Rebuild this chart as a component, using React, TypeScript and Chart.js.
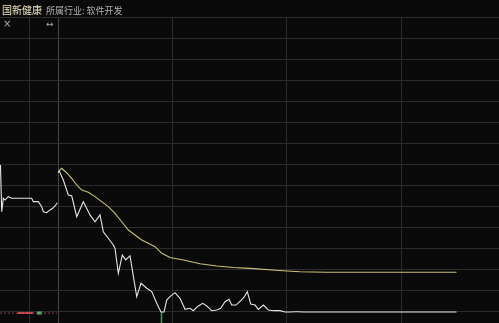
import React, { useEffect, useRef } from "react";
import { Chart, registerables } from "chart.js";

Chart.register(...registerables);

// x in minutes from the open (auction panel uses negative minutes), y in % change vs previous close
const X_MIN = -30.44;
const X_MAX = 231.4;
const X_GRID = [-15.22, 0, 60, 120, 180];
const Y_MIN = -10.746;
const Y_MAX = 10;
const Y_GRID = Array.from({ length: 15 }, (_, k) => 10 - (k * 10) / 7);

const priceMin = [0, 0.7, 2.78, 5.4, 7.19, 9.81, 13.28, 16.79, 19.42, 22.04, 23.77, 26.4, 29.02, 29.91, 31.64, 33.74, 35.53, 37.78, 41.3, 43.56, 46.55, 49.17, 51.8, 54.05, 55.63, 57.04, 58.77, 61.4, 64.02, 66.65, 69.27, 71.0, 73.63, 75.93, 78.03, 80.66, 83.28, 85.38, 87.64, 89.74, 91.15, 93.41, 95.88, 97.61, 99.34, 101.12, 103.38, 105.11, 107.74, 110.36, 112.98, 116.5, 119.12, 121.75, 124.37, 126.1, 128.7, 209.1];
const pricePct = [-0.55, -0.45, -1.05, -2.07, -2.12, -3.54, -2.52, -3.42, -3.88, -3.42, -4.56, -5.0, -5.46, -5.68, -7.38, -6.14, -6.47, -6.2, -8.96, -8.05, -8.39, -8.62, -9.41, -10.0, -10.0, -9.19, -8.96, -8.69, -9.07, -9.82, -9.75, -9.91, -9.59, -9.41, -9.59, -9.91, -9.86, -9.75, -9.3, -9.14, -9.53, -9.53, -9.23, -9.0, -8.62, -9.46, -9.53, -9.82, -9.53, -9.86, -9.91, -9.91, -10.0, -10.0, -9.98, -9.98, -10.0, -10.0];

const avgMin = [0.16, 1.94, 4.57, 7.19, 9.81, 12.44, 15.9, 19.42, 22.93, 26.4, 29.91, 33.43, 36.89, 40.41, 43.92, 47.39, 50.9, 54.42, 58.77, 65.75, 74.52, 83.28, 91.99, 100.75, 118.23, 126.99, 141.0, 209.1];
const avgPct = [-0.49, -0.26, -0.56, -0.94, -1.39, -1.73, -1.88, -2.18, -2.52, -2.86, -3.31, -3.88, -4.44, -4.78, -5.12, -5.34, -5.57, -6.02, -6.31, -6.47, -6.73, -6.88, -6.98, -7.04, -7.2, -7.27, -7.31, -7.31];

const auctionMin = [-30.2, -29.54, -28.7, -27.81, -26.08, -24.3, -13.8, -12.96, -10.34, -8.55, -7.71, -5.93, -4.2, -2.78, -1.57, -0.37];
const auctionPct = [-0.03, -3.2, -2.29, -2.41, -2.18, -2.29, -2.29, -2.52, -2.52, -2.86, -3.2, -3.27, -3.08, -2.97, -2.81, -2.59];

const auctionVolDotMin = [-30.4, -0.5];
const auctionVolRedMin = [-20.99, -13.12];
const auctionVolGreenMin = [-11.02, -8.4];
const auctionVolPct = -10.07;

const limitBarMin = 54.3;
const limitBarPct = [-10.02, -10.75];

const zip = (xs: number[], ys: number[]) => xs.map((x, i) => ({ x, y: ys[i] }));

export default function App() {
  const ref = useRef<HTMLCanvasElement | null>(null);

  useEffect(() => {
    if (!ref.current) return;
    const line = (data: any[], color: string, width = 1, extra: any = {}) => ({
      type: "line" as const,
      data,
      borderColor: color,
      borderWidth: width,
      pointRadius: 0,
      tension: 0,
      fill: false,
      ...extra,
    });
    const chart = new Chart(ref.current, {
      type: "line",
      data: {
        datasets: [
          line(zip(priceMin, pricePct), "#e6e6e6", 1.1),
          line(zip(avgMin, avgPct), "#cbc275", 1.1),
          line(zip(auctionMin, auctionPct), "#e6e6e6", 1.1),
          line(auctionVolDotMin.map((x) => ({ x, y: auctionVolPct })), "#8a4a50", 1, { borderDash: [2, 2] }),
          line(auctionVolRedMin.map((x) => ({ x, y: auctionVolPct })), "#d84a4a", 2),
          line(auctionVolGreenMin.map((x) => ({ x, y: auctionVolPct })), "#3ec46a", 3),
          line(limitBarPct.map((y) => ({ x: limitBarMin, y })), "#2fa552", 1.5),
        ] as any,
      },
      options: {
        animation: false,
        responsive: false,
        devicePixelRatio: 1,
        events: [],
        layout: { padding: { top: 17, left: 0, right: 0, bottom: 0 } },
        plugins: { legend: { display: false }, tooltip: { enabled: false } },
        scales: {
          x: {
            type: "linear",
            min: X_MIN,
            max: X_MAX,
            ticks: { display: false },
            border: { display: false },
            grid: {
              drawTicks: false,
              lineWidth: 1,
              color: (ctx: any) => (ctx.tick && Math.abs(ctx.tick.value) < 1e-6 ? "#454545" : "#2c2c2c"),
            },
            afterBuildTicks: (axis: any) => {
              axis.ticks = X_GRID.map((value) => ({ value }));
            },
          },
          y: {
            type: "linear",
            min: Y_MIN,
            max: Y_MAX,
            ticks: { display: false },
            border: { display: false },
            grid: { drawTicks: false, lineWidth: 1, color: "#2c2c2c" },
            afterBuildTicks: (axis: any) => {
              axis.ticks = Y_GRID.map((value) => ({ value }));
            },
          },
        },
      },
    });
    return () => chart.destroy();
  }, []);

  return (
    <div
      style={{
        position: "fixed",
        left: 0,
        top: 0,
        width: 499,
        height: 323,
        background: "#0a0a0a",
        overflow: "hidden",
        fontFamily: "'Noto Sans CJK SC', 'Noto Sans', sans-serif",
      }}
    >
      <canvas ref={ref} width={499} height={323} style={{ display: "block", position: "absolute", left: 0, top: 0 }} />
      <div style={{ position: "absolute", left: 2, top: 0, height: 16, lineHeight: "15px", whiteSpace: "nowrap" }}>
        <span style={{ color: "#ece4bc", fontSize: 10 }}>国新健康</span>
        <span style={{ color: "#b4b4b4", fontSize: 9, marginLeft: 4 }}>所属行业: 软件开发</span>
      </div>
      <div style={{ position: "absolute", left: 3, top: 17, fontSize: 10, lineHeight: "14px", color: "#a8a8a8", fontFamily: "'DejaVu Sans', sans-serif" }}>×</div>
      <div style={{ position: "absolute", left: 46, top: 17, fontSize: 9, lineHeight: "14px", color: "#a8a8a8", fontFamily: "'DejaVu Sans', sans-serif" }}>↔</div>
    </div>
  );
}
